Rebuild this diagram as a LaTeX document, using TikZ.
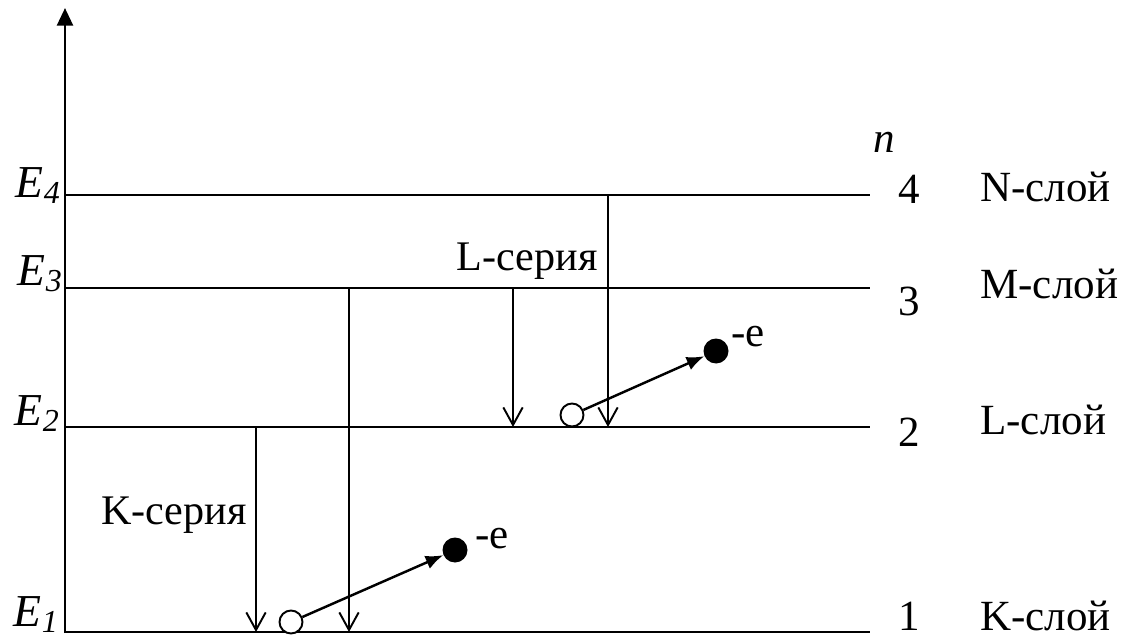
\documentclass[tikz,border=0pt]{standalone}
\usepackage{fontspec}
\setmainfont{Liberation Serif}
\usetikzlibrary{arrows.meta,positioning,calc}

\begin{document}
\begin{tikzpicture}[
    x=0.02cm, y=-0.02cm,
    every node/.style={inner sep=0pt, font=\fontsize{24.5}{28}\selectfont},
    level/.style={line width=1.1pt},
    axis/.style={line width=1.6pt, -{Triangle[length=10pt,width=9pt]}},
    trans/.style={line width=1.1pt, -{Straight Barb[length=10pt,width=11pt,line width=1.1pt]}},
    kick/.style={line width=1.4pt, -{Latex[length=10pt,width=8pt]}},
    hole/.style={circle, draw, line width=1.1pt, fill=white, minimum size=0.46cm},
    electron/.style={circle, fill=black, minimum size=0.5cm},
    series/.style={anchor=base, font=\fontsize{24}{28}\selectfont},
    energy/.style={anchor=base east, font=\fontsize{26}{30}\selectfont},
]
    \useasboundingbox (0,0) rectangle (1133,639);
    % Energy axis
    \coordinate (ax0) at (65,633);
    \coordinate (ax1) at (65,8);
    \draw[axis] (ax0) -- (ax1);
    % Levels
    \foreach \n/\y in {1/632,2/427,3/288,4/195} {
        \coordinate (l\n) at (65,\y);
        \coordinate (r\n) at (870,\y);
        \draw[level] (l\n) -- (r\n);
    }
    % Energy labels
    \node[energy] (e4) at (61,197) {\textit{E}\textsubscript{\textit{4}}};
    \node[energy] (e3) at (63,285) {\textit{E}\textsubscript{\textit{3}}};
    \node[energy] (e2) at (60,425) {\textit{E}\textsubscript{\textit{2}}};
    \node[energy] (e1) at (59,626) {\textit{E}\textsubscript{\textit{1}}};
    % Quantum numbers and shells
    \node[anchor=base] (n) at (884,152) {\textit{n}};
    \foreach \n/\yd/\sh/\ys in {4/203/N/201, 3/315/M/298, 2/446/L/434, 1/630/K/630} {
        \node[anchor=base] (d\n) at (909,\yd) {\n};
        \node[anchor=base west] (s\n) at (980,\ys) {\sh-слой};
    }
    % K-series
    \coordinate (ka) at (256,427);
    \coordinate (kb) at (256,632);
    \coordinate (kc) at (349,288);
    \coordinate (kd) at (349,632);
    \draw[trans] (ka) -- (kb);
    \draw[trans] (kc) -- (kd);
    \node[series] (kser) at (174,524) {K-серия};
    % L-series
    \coordinate (la) at (513,288);
    \coordinate (lb) at (513,427);
    \coordinate (lc) at (608,195);
    \coordinate (ld) at (608,427);
    \draw[trans] (la) -- (lb);
    \draw[trans] (lc) -- (ld);
    \node[series] (lser) at (527,270) {L-серия};
    % Ejected electrons
    \node[hole] (h1) at (291,622) {};
    \node[electron] (f1) at (455,550) {};
    \draw[kick] (h1) -- (f1);
    \node[anchor=base west] (q1) at (475,548) {-e};
    \node[hole] (h2) at (572,415) {};
    \node[electron] (f2) at (716,351) {};
    \draw[kick] (h2) -- (f2);
    \node[anchor=base west] (q2) at (731,346) {-e};
\end{tikzpicture}
\end{document}
